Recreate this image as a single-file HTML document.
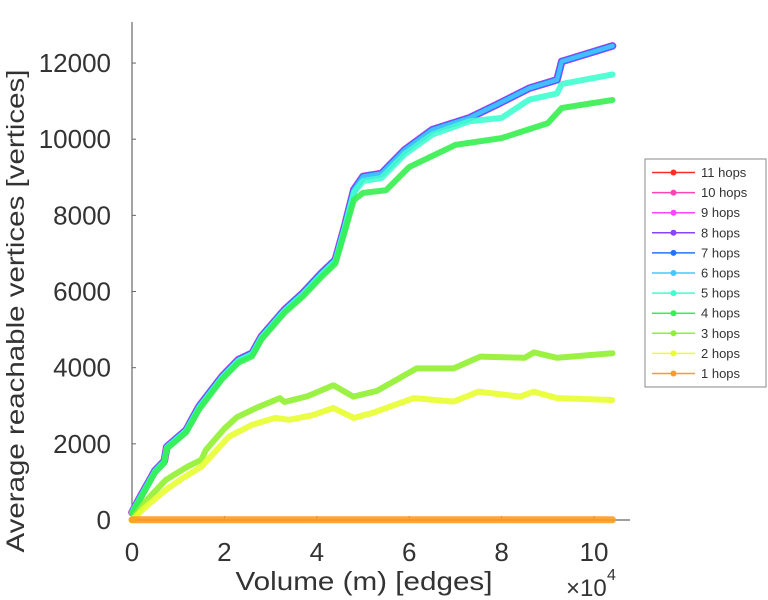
<!DOCTYPE html>
<html><head><meta charset="utf-8"><style>
html,body{margin:0;padding:0;background:#fff;}
svg{display:block;font-family:"Liberation Sans",sans-serif;}
</style></head><body>
<svg id="chart" width="768" height="600" viewBox="0 0 768 600">
<g id="axes"></g>
<g id="series"></g>
<g id="legend"></g>
</svg>
<script>
// Data (x in units of 1e4 edges)
const xTicks = [0, 2, 4, 6, 8, 10];
const yTicks = [0, 2000, 4000, 6000, 8000, 10000, 12000];
const xTickLabels = ["0", "2", "4", "6", "8", "10"];
const yTickLabels = ["0", "2000", "4000", "6000", "8000", "10000", "12000"];

const upperX = [0, 0.2, 0.5, 0.7, 0.75, 1.17, 1.45, 1.95, 2.3, 2.6, 2.8, 3.3, 3.7, 4.1, 4.4, 4.6, 4.8, 5.0, 5.4, 5.9, 6.5, 7.3, 7.9, 8.6, 9.2, 9.3, 10.0, 10.4];
const upperY = [200, 650, 1300, 1550, 1920, 2360, 2980, 3770, 4210, 4380, 4820, 5520, 5960, 6480, 6830, 7700, 8670, 9020, 9100, 9720, 10250, 10560, 10910, 11340, 11560, 12040, 12300, 12450];
const hop5X = [0, 0.2, 0.5, 0.7, 0.75, 1.17, 1.45, 1.95, 2.3, 2.6, 2.8, 3.3, 3.7, 4.1, 4.4, 4.6, 4.8, 5.0, 5.4, 5.9, 6.5, 7.3, 8.0, 8.6, 9.2, 9.3, 10.4];
const hop5Y = [200, 630, 1280, 1530, 1900, 2340, 2950, 3740, 4180, 4350, 4790, 5490, 5920, 6440, 6790, 7650, 8600, 8900, 8980, 9600, 10120, 10470, 10560, 11040, 11200, 11450, 11700];
const hop4X = [0, 0.2, 0.5, 0.7, 0.75, 1.17, 1.45, 1.95, 2.3, 2.6, 2.8, 3.3, 3.7, 4.1, 4.4, 4.6, 4.8, 5.0, 5.5, 6.0, 7.0, 8.0, 9.0, 9.3, 10.4];
const hop4Y = [180, 600, 1250, 1500, 1870, 2300, 2900, 3700, 4130, 4300, 4740, 5440, 5870, 6380, 6730, 7550, 8400, 8590, 8660, 9270, 9850, 10030, 10420, 10820, 11030];
const hop3X = [0, 0.3, 0.73, 1.2, 1.5, 1.6, 2.0, 2.27, 2.7, 3.2, 3.3, 3.8, 4.36, 4.79, 5.3, 6.16, 6.96, 7.54, 8.5, 8.7, 9.2, 10.4];
const hop3Y = [0, 500, 1050, 1400, 1580, 1840, 2400, 2700, 2950, 3200, 3100, 3250, 3540, 3240, 3390, 3980, 3980, 4290, 4260, 4400, 4260, 4380];
const hop2X = [0, 0.3, 0.73, 1.1, 1.5, 1.8, 2.1, 2.6, 3.1, 3.4, 3.9, 4.36, 4.8, 5.2, 6.1, 6.96, 7.5, 8.4, 8.7, 9.2, 10.4];
const hop2Y = [0, 350, 790, 1100, 1400, 1800, 2190, 2500, 2680, 2630, 2750, 2940, 2680, 2810, 3200, 3110, 3370, 3240, 3370, 3200, 3150];
const hop1X = [0, 10.4];
const hop1Y = [5, 5];

const seriesNames = ["11 hops","10 hops","9 hops","8 hops","7 hops","6 hops","5 hops","4 hops","3 hops","2 hops","1 hops"];
const seriesColors = ["#ff2a2a","#ff45b5","#ff45ff","#8844ff","#2a70ff","#45c8ff","#40ffd0","#35f050","#90f030","#e8ff30","#ff9a25"];

const X0 = 132, XS = 46.2, Y0 = 520, YS = 0.03808;
function xs(v){ return X0 + v * XS; }
function ys(v){ return Y0 - v * YS; }
const NS = "http://www.w3.org/2000/svg";
function mk(tag, attrs, parent){ const e = document.createElementNS(NS, tag); for (const k in attrs) e.setAttribute(k, attrs[k]); parent.appendChild(e); return e; }

const axes = document.getElementById('axes');
let a = mk('line', {x1:X0, y1:22, x2:X0, y2:Y0, stroke:'#666', 'stroke-width':1.2}, axes);


a = mk('line', {x1:X0, y1:Y0, x2:630, y2:Y0, stroke:'#666', 'stroke-width':1.2}, axes);


xTicks.forEach((t, i) => {
  const tk = mk('line', {x1:xs(t), y1:Y0, x2:xs(t), y2:Y0-4, stroke:'#666'}, axes);
  
  
  const tx = mk('text', {x:xs(t), y:561, 'text-anchor':'middle', 'font-size':26, fill:'#333'}, axes);
  tx.textContent = xTickLabels[i];
  
  
});
yTicks.forEach((t, i) => {
  const tk = mk('line', {x1:X0, y1:ys(t), x2:X0+4, y2:ys(t), stroke:'#666'}, axes);
  
  
  const tx = mk('text', {x:111, y:ys(t)+9, 'text-anchor':'end', 'font-size':26, fill:'#333'}, axes);
  tx.textContent = yTickLabels[i];
  
  
});
let t = mk('text', {x:364, y:590, 'text-anchor':'middle', 'font-size':26, fill:'#333', textLength:257, lengthAdjust:'spacingAndGlyphs'}, axes);
t.textContent = 'Volume (m) [edges]';


t = mk('text', {x:566, y:596, 'font-size':24, fill:'#333'}, axes);
t.textContent = '×10';


t = mk('text', {x:607, y:580, 'font-size':16, fill:'#333'}, axes);
t.textContent = '4';


t = mk('text', {x:0, y:0, 'text-anchor':'middle', 'font-size':25, fill:'#333', textLength:483, lengthAdjust:'spacingAndGlyphs', transform:'translate(24,311) rotate(-90)'}, axes);
t.textContent = 'Average reachable vertices [vertices]';



const ser = document.getElementById('series');
function draw(X, Y, color, w, name){
  const pts = X.map((v, i) => xs(v).toFixed(1) + ',' + ys(Y[i]).toFixed(1)).join(' ');
  const p = mk('polyline', {points:pts, fill:'none', stroke:color, 'stroke-width':w, 'stroke-linejoin':'round', 'stroke-linecap':'round', 'stroke-dasharray':'2 1', opacity:0.9}, ser);
  
  
}
draw(upperX, upperY, seriesColors[0], 7.5, 'line-11-hops');
draw(upperX, upperY, seriesColors[1], 7.5, 'line-10-hops');
draw(upperX, upperY, seriesColors[2], 7.5, 'line-9-hops');
draw(upperX, upperY, seriesColors[3], 7, 'line-8-hops');
draw(upperX, upperY, seriesColors[4], 6.5, 'line-7-hops');
draw(upperX, upperY, seriesColors[5], 4.5, 'line-6-hops');
draw(hop5X, hop5Y, seriesColors[6], 6, 'line-5-hops');
draw(hop4X, hop4Y, seriesColors[7], 6, 'line-4-hops');
draw(hop3X, hop3Y, seriesColors[8], 6, 'line-3-hops');
draw(hop2X, hop2Y, seriesColors[9], 6, 'line-2-hops');
draw(hop1X, hop1Y, seriesColors[10], 7, 'line-1-hops');

const leg = document.getElementById('legend');
const box = mk('rect', {x:645, y:159, width:121, height:228, fill:'#fff', stroke:'#888', 'stroke-width':1}, leg);


seriesNames.forEach((n, i) => {
  const y = 172.5 + i * 20.1;
  const g = mk('g', {}, leg);
  
  
  mk('line', {x1:652, y1:y, x2:695, y2:y, stroke:seriesColors[i], 'stroke-width':1.5}, g);
  mk('circle', {cx:673.5, cy:y, r:3, fill:seriesColors[i]}, g);
  const tx = mk('text', {x:701, y:y+4.5, 'font-size':13, fill:'#333'}, g);
  tx.textContent = n;
});
</script>
</body></html>
